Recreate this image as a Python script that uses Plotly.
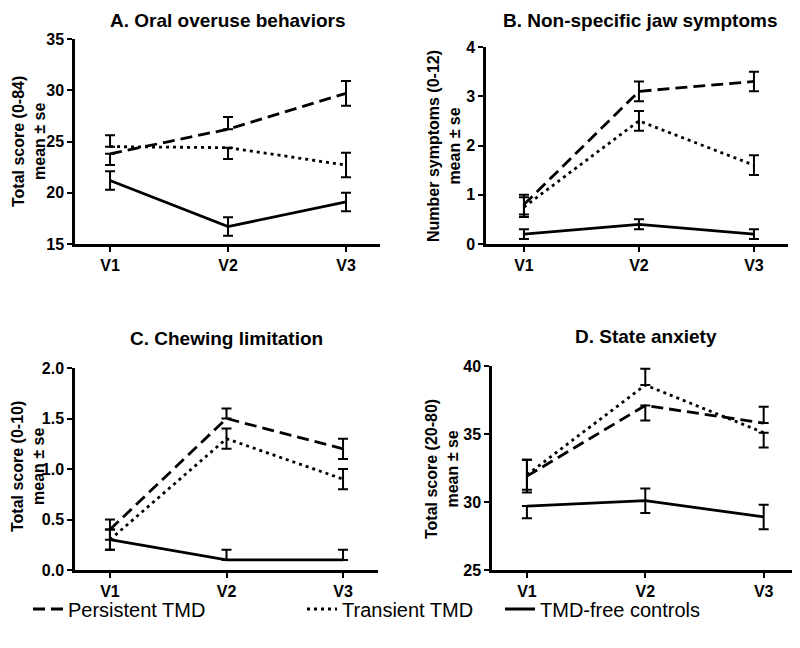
import plotly.graph_objects as go

visits = ["V1", "V2", "V3"]
groups = ["Persistent TMD", "Transient TMD", "TMD-free controls"]

# Panel A: Oral overuse behaviors
oral_persistent = [23.8, 26.2, 29.7]
oral_persistent_se = [1.1, 1.2, 1.2]
oral_persistent_dir = ["down", "up", "both"]
oral_transient = [24.5, 24.4, 22.7]
oral_transient_se = [1.1, 1.1, 1.2]
oral_transient_dir = ["up", "down", "both"]
oral_controls = [21.2, 16.7, 19.1]
oral_controls_se = [0.9, 0.9, 0.9]
oral_controls_dir = ["both", "both", "both"]

# Panel B: Non-specific jaw symptoms
jaw_persistent = [0.8, 3.1, 3.3]
jaw_persistent_se = [0.2, 0.2, 0.2]
jaw_persistent_dir = ["both", "both", "both"]
jaw_transient = [0.75, 2.5, 1.6]
jaw_transient_se = [0.2, 0.2, 0.2]
jaw_transient_dir = ["both", "both", "both"]
jaw_controls = [0.2, 0.4, 0.2]
jaw_controls_se = [0.1, 0.1, 0.1]
jaw_controls_dir = ["both", "both", "both"]

# Panel C: Chewing limitation
chew_persistent = [0.4, 1.5, 1.2]
chew_persistent_se = [0.1, 0.1, 0.1]
chew_persistent_dir = ["both", "up", "both"]
chew_transient = [0.3, 1.3, 0.9]
chew_transient_se = [0.1, 0.1, 0.1]
chew_transient_dir = ["both", "both", "both"]
chew_controls = [0.3, 0.1, 0.1]
chew_controls_se = [0.1, 0.1, 0.1]
chew_controls_dir = ["both", "up", "up"]

# Panel D: State anxiety
anx_persistent = [31.9, 37.1, 35.8]
anx_persistent_se = [1.2, 1.1, 1.2]
anx_persistent_dir = ["both", "down", "up"]
anx_transient = [32.0, 38.6, 35.1]
anx_transient_se = [1.1, 1.2, 1.1]
anx_transient_dir = ["both", "up", "down"]
anx_controls = [29.7, 30.1, 28.9]
anx_controls_se = [0.9, 0.9, 0.9]
anx_controls_dir = ["down", "both", "both"]

panel_titles = ["A. Oral overuse behaviors", "B. Non-specific jaw symptoms",
                "C. Chewing limitation", "D. State anxiety"]
y_titles = ["Total score (0-84)<br>mean ± se", "Number symptoms (0-12)<br>mean ± se",
            "Total score (0-10)<br>mean ± se", "Total score (20-80)<br>mean ± se"]
y_ticks = [[15, 20, 25, 30, 35], [0, 1, 2, 3, 4],
           [0.0, 0.5, 1.0, 1.5, 2.0], [25, 30, 35, 40]]

panels = [
    [(oral_persistent, oral_persistent_se, oral_persistent_dir),
     (oral_transient, oral_transient_se, oral_transient_dir),
     (oral_controls, oral_controls_se, oral_controls_dir)],
    [(jaw_persistent, jaw_persistent_se, jaw_persistent_dir),
     (jaw_transient, jaw_transient_se, jaw_transient_dir),
     (jaw_controls, jaw_controls_se, jaw_controls_dir)],
    [(chew_persistent, chew_persistent_se, chew_persistent_dir),
     (chew_transient, chew_transient_se, chew_transient_dir),
     (chew_controls, chew_controls_se, chew_controls_dir)],
    [(anx_persistent, anx_persistent_se, anx_persistent_dir),
     (anx_transient, anx_transient_se, anx_transient_dir),
     (anx_controls, anx_controls_se, anx_controls_dir)],
]

W, H = 800, 648
OFF = 8  # page body margin offset
FONT = "Liberation Sans, Arial, sans-serif"
dashes = ["12px,6px", "3px,4px", "solid"]


def fx(px):
    return (px - OFF) / W


def fy(py):
    return (H - (py - OFF)) / H


# layout geometry (pixels in the target picture)
x_dom_px = [(75, 380), (486, 788), (75, 378), (492, 798)]
y_dom_px = [(244, 39), (244, 47), (570, 368), (570, 366)]
x_ranges = [(-0.297, 2.288), (-0.33, 2.296), (-0.30, 2.30), (-0.295, 2.29)]
title_pos = [(228, 21), (640, 21), (226, 338), (646, 337)]
ytitle_pos = [(29, 142), (444, 146), (28, 467), (442, 469)]
legend_text_x = [68, 342, 540]
legend_y = 609

fig = go.Figure()
for p, series in enumerate(panels):
    ax = "" if p == 0 else str(p + 1)
    for g, (vals, se, dirs) in enumerate(series):
        plus = [s if d in ("up", "both") else 0 for s, d in zip(se, dirs)]
        minus = [s if d in ("down", "both") else 0 for s, d in zip(se, dirs)]
        fig.add_trace(go.Scatter(
            x=[0, 1, 2], y=vals, mode="lines", name=groups[g],
            line=dict(color="black", width=2.8, dash=dashes[g]),
            error_y=dict(type="data", array=plus, arrayminus=minus, symmetric=False,
                         color="black", thickness=2, width=5),
            showlegend=(p == 0), legend="legend" if g == 0 else "legend" + str(g + 1),
            xaxis="x" + ax, yaxis="y" + ax,
        ))

layout = dict(
    width=W, height=H, margin=dict(l=0, r=0, t=0, b=0, autoexpand=False),
    paper_bgcolor="white", plot_bgcolor="white",
    font=dict(family=FONT, color="black"),
    annotations=[],
)
for g in range(3):
    key = "legend" if g == 0 else "legend" + str(g + 1)
    layout[key] = dict(
        orientation="h", x=fx(legend_text_x[g] - 40), xanchor="left",
        y=fy(legend_y), yanchor="middle", bgcolor="rgba(0,0,0,0)",
        font=dict(family=FONT, size=20, color="black"),
    )

for p in range(4):
    ax = "" if p == 0 else str(p + 1)
    x0, x1 = x_dom_px[p]
    yb, yt = y_dom_px[p]
    layout["xaxis" + ax] = dict(
        domain=[fx(x0), min(fx(x1), 1.0)], range=list(x_ranges[p]),
        tickvals=[0, 1, 2], ticktext=visits,
        showline=True, linecolor="black", linewidth=2.5, mirror=False,
        ticks="outside", ticklen=5, tickwidth=2, tickcolor="black",
        showgrid=False, zeroline=False, anchor="y" + ax,
        tickfont=dict(family=FONT, size=16, color="black", weight="bold"),
    )
    yt_vals = y_ticks[p]
    layout["yaxis" + ax] = dict(
        domain=[fy(yb), fy(yt)], range=[yt_vals[0], yt_vals[-1]],
        tickvals=yt_vals, tickformat=".1f" if p == 2 else "d",
        showline=True, linecolor="black", linewidth=2.5,
        ticks="outside", ticklen=5, tickwidth=2, tickcolor="black",
        showgrid=False, zeroline=False, anchor="x" + ax,
        tickfont=dict(family=FONT, size=16, color="black", weight="bold"),
    )
    tx, ty = title_pos[p]
    layout["annotations"].append(dict(
        text="<b>" + panel_titles[p] + "</b>", x=fx(tx), y=fy(ty),
        xref="paper", yref="paper", showarrow=False, xanchor="center", yanchor="middle",
        font=dict(family=FONT, size=19, color="black"),
    ))
    yx, yy = ytitle_pos[p]
    layout["annotations"].append(dict(
        text="<b>" + y_titles[p] + "</b>", x=fx(yx), y=fy(yy),
        xref="paper", yref="paper", showarrow=False, xanchor="center", yanchor="middle",
        textangle=-90, font=dict(family=FONT, size=16, color="black"),
    ))

fig.update_layout(**layout)
fig.write_html("out.html")
